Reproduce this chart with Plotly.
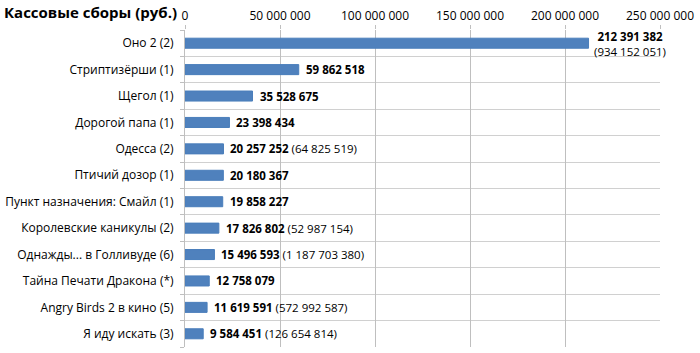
import plotly.graph_objects as go

categories = ["Оно 2 (2)", "Стриптизёрши (1)", "Щегол (1)", "Дорогой папа (1)", "Одесса (2)",
              "Птичий дозор (1)", "Пункт назначения: Смайл (1)", "Королевские каникулы (2)",
              "Однажды... в Голливуде (6)", "Тайна Печати Дракона (*)", "Angry Birds 2 в кино (5)",
              "Я иду искать (3)"]
weekend = [212391382, 59862518, 35528675, 23398434, 20257252, 20180367, 19858227,
           17826802, 15496593, 12758079, 11619591, 9584451]
total = [934152051, None, None, None, 64825519, None, None, 52987154, 1187703380, None,
         572992587, 126654814]
tick_vals = [0, 50000000, 100000000, 150000000, 200000000, 250000000]
tick_text = ["0", "50 000 000", "100 000 000", "150 000 000", "200 000 000", "250 000 000"]

def fmt(v):
    return f"{v:,}".replace(",", " ")

ypos = list(range(len(categories)))
FONT = "Open Sans"

fig = go.Figure(go.Bar(
    x=weekend, y=ypos, orientation="h", width=0.38,
    marker=dict(color="#4F81BD", line=dict(color="#4A7EBB", width=1)),
    hoverinfo="skip"))

for i, (w, t) in enumerate(zip(weekend, total)):
    if i == 0:
        fig.add_annotation(x=w, y=i, xref="x", yref="y", xanchor="left", xshift=3, yshift=-1,
                           text=f"<b>{fmt(w)}</b><br>({fmt(t)})", showarrow=False, align="center",
                           font=dict(family=FONT, size=11.5, color="#000"))
    else:
        txt = f"<b>{fmt(w)}</b>" + (f" ({fmt(t)})" if t else "")
        fig.add_annotation(x=w, y=i, xref="x", yref="y", xanchor="left", xshift=5,
                           text=txt, showarrow=False,
                           font=dict(family=FONT, size=11.5, color="#000"))

fig.update_layout(
    width=700, height=353, margin=dict(l=185, r=40, t=30, b=6),
    paper_bgcolor="white", plot_bgcolor="white", showlegend=False,
    title=dict(text="<b>Кассовые сборы (руб.)</b>", x=4/700, xref="container", xanchor="left",
               y=1 - 13/353, yanchor="middle", font=dict(family=FONT, size=15, color="#000")),
    xaxis=dict(side="top", range=[0, 250000000], tickvals=tick_vals, ticktext=tick_text,
               showgrid=True, gridcolor="#BFBFBF", gridwidth=1, zeroline=False,
               ticks="outside", ticklen=4, tickcolor="#BFBFBF", showline=False,
               tickfont=dict(family=FONT, size=12, color="#000")),
    yaxis=dict(range=[len(categories) - 0.5, -0.5], tickvals=ypos, ticktext=categories,
               showgrid=False, zeroline=False, showline=True, linecolor="#BFBFBF",
               ticks="", ticklabelstandoff=8, tickfont=dict(family=FONT, size=12, color="#000"),
               minor=dict(tickmode="linear", tick0=0.5, dtick=1, showgrid=True,
                          gridcolor="#D0D0D0", ticks="outside", ticklen=4, tickcolor="#BFBFBF")),
)

fig.write_html("out.html")
